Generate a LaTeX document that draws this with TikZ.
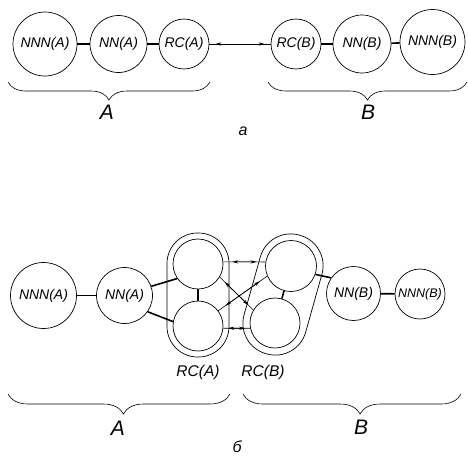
\documentclass[tikz,border=0pt]{standalone}
\usepackage{fontspec}
\setmainfont{Liberation Sans}
\usetikzlibrary{decorations.pathreplacing,arrows.meta}
\begin{document}
\begin{tikzpicture}[x=1pt,y=1pt,
  unit/.style={circle,draw,line width=0.7pt,inner sep=0pt,
    font=\itshape\fontsize{14}{14}\selectfont},
  bond/.style={line width=1.6pt},
  link/.style={line width=0.6pt},
  tips/.style={line width=0.6pt,
    {Stealth[length=6pt,width=3.2pt]}-{Stealth[length=6pt,width=3.2pt]},
    shorten <=#1,shorten >=#1},
  shell/.style={line width=0.7pt},
  grp/.style={decorate,line width=0.6pt,
    decoration={brace,mirror,amplitude=#1}},
  lab/.style={font=\itshape\fontsize{21}{21}\selectfont},
  sublab/.style={font=\itshape\fontsize{16}{16}\selectfont}]
\useasboundingbox (0,0) rectangle (468,-459);

% ---- (а) the two reaction centres as single units ----
\node[unit,minimum size=64] (aNNNA) at (45,-44)    {NNN(A)};
\node[unit,minimum size=57] (aNNA)  at (118.5,-44) {NN(A)};
\node[unit,minimum size=50] (aRCA)  at (184,-44)   {RC(A)};
\node[unit,minimum size=50] (aRCB)  at (296,-44)   {RC(B)};
\node[unit,minimum size=58] (aNNB)  at (362,-44)   {NN(B)};
\node[unit,minimum size=65] (aNNNB) at (432.5,-42) {NNN(B)};

\draw[bond] (aNNNA) -- (aNNA);
\draw[bond] (aNNA) -- (aRCA);
\draw[bond] (aRCB) -- (aNNB);
\draw[bond] (aNNB) -- (aNNNB);
\draw[link] (aRCA) -- (aRCB);
\draw[tips=6pt] (aRCA) -- (aRCB);

\draw[grp=18] (8,-82) -- (210,-82);
\draw[grp=18] (268,-82) -- (467,-82);
\node[lab] (labA1) at (107,-112) {A};
\node[lab] (labB1) at (368,-112) {B};
\node[sublab] (suba) at (243,-131) {а};

% ---- (б) each reaction centre split into two partners ----
\node[unit,minimum size=66] (bNNNA) at (43.5,-295.5) {NNN(A)};
\node[unit,minimum size=56] (bNNA)  at (124.5,-295.5) {NN(A)};
\node[unit,minimum size=50] (bRCAt) at (198,-264) {};
\node[unit,minimum size=50] (bRCAb) at (198,-326) {};
\node[unit,minimum size=51] (bRCBt) at (291,-266) {};
\node[unit,minimum size=50] (bRCBb) at (275,-323) {};
\node[unit,minimum size=54] (bNNB)  at (353.5,-293.5) {NN(B)};
\node[unit,minimum size=50,font=\itshape\fontsize{12.5}{12.5}\selectfont]
  (bNNNB) at (420,-294) {NNN(B)};

% outlines grouping the partners of each centre
\draw[shell,rounded corners=30.5] (167,-233) rectangle (229,-357);
\begin{scope}[shift={(283,-294.5)},rotate=74.32]
  \draw[shell,rounded corners=31.5] (-61.6,-32) rectangle (61.6,32);
\end{scope}

\draw[bond] (bNNNA) -- (bNNA);
\draw[bond] (bNNA.19) -- (bRCAt.215);
\draw[bond] (bNNA.-35) -- (bRCAb.170);
\draw[bond] (bRCAt) -- (bRCAb);
\draw[bond] (bRCBt) -- (bRCBb);
\draw[bond] (bRCBt.-19) -- (bNNB.145);
\draw[bond] (bNNB) -- (bNNNB);

% exchange between the partners of A and B
\draw[link] (bRCAt.5) -- (bRCBt.171);
\draw[tips=9pt] (bRCAt.5) -- (bRCBt.171);
\draw[link] (bRCAb.-5) -- (bRCBb.192);
\draw[tips=5pt] (bRCAb.-5) -- (bRCBb.192);
\draw[link] (bRCAt.-31) -- (bRCBb.149);
\draw[tips=7pt] (bRCAt.-31) -- (bRCBb.149);
\draw[link] (bRCAb.37) -- (bRCBt.203);
\draw[tips=9pt] (bRCAb.37) -- (bRCBt.203);

\node[sublab,font=\itshape\fontsize{15.5}{15.5}\selectfont] (labRCA) at (198,-372) {RC(A)};
\node[sublab,font=\itshape\fontsize{15.5}{15.5}\selectfont] (labRCB) at (263,-372) {RC(B)};

\draw[grp=20,decoration={aspect=0.52}] (8,-394) -- (230,-394);
\draw[grp=20,decoration={aspect=0.537}] (243,-394) -- (461,-394);
\node[lab] (labA2) at (118,-428) {A};
\node[lab] (labB2) at (361,-427) {B};
\node[sublab] (subb) at (237,-447) {б};
\end{tikzpicture}
\end{document}
